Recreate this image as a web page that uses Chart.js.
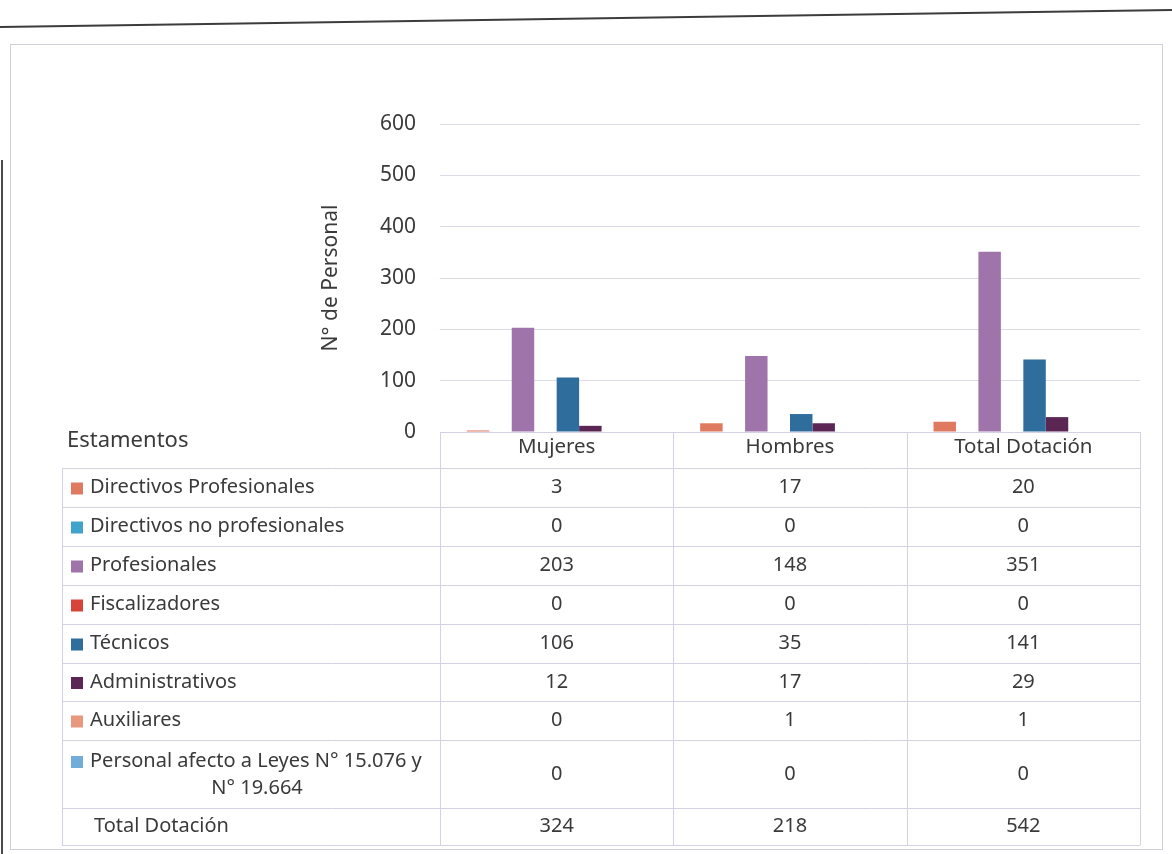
<!DOCTYPE html>
<html lang="es">
<head>
<meta charset="utf-8">
<title>Dotación por estamento</title>
<script src="https://cdn.jsdelivr.net/npm/chart.js@4.4.1/dist/chart.umd.min.js"></script>
<style>
  html, body { margin: 0; padding: 0; background: #fff; }
  canvas { display: block; }
</style>
</head>
<body>
<canvas id="dotacion" width="1172" height="854"></canvas>
<script>
// Columnas y estamentos
const categories = ['Mujeres', 'Hombres', 'Total Dotación'];
const estamentos = [
  'Directivos Profesionales',
  'Directivos no profesionales',
  'Profesionales',
  'Fiscalizadores',
  'Técnicos',
  'Administrativos',
  'Auxiliares',
  ['Personal afecto a Leyes N° 15.076 y', 'N° 19.664']
];

// Valores por estamento (Mujeres, Hombres, Total)
const directivosProf   = [3, 17, 20];
const directivosNoProf = [0, 0, 0];
const profesionales    = [203, 148, 351];
const fiscalizadores   = [0, 0, 0];
const tecnicos         = [106, 35, 141];
const administrativos  = [12, 17, 29];
const auxiliares       = [0, 1, 1];
const leyesMedicas     = [0, 0, 0];
const totalDotacion    = [324, 218, 542];

const seriesValues = [directivosProf, directivosNoProf, profesionales, fiscalizadores,
                      tecnicos, administrativos, auxiliares, leyesMedicas];
const seriesColors = ['#df7a60', '#3fa3cc', '#9f74ab', '#d6443a',
                      '#2f6d9c', '#5b2554', '#e9977e', '#72acd8'];

const yMax = 600;
const yStep = 100;

const FONT = "'Noto Sans', sans-serif";
const TEXT = '#3a3a3a';
const LINE = '#d2d3e2';

// Tabla de datos bajo el gráfico, alineada con la escala x
const dataTable = {
  id: 'dataTable',
  afterDraw(chart) {
    const { ctx, chartArea: area, scales: { x } } = chart;
    const colW = (area.right - area.left) / categories.length;
    const tableLeft = 62;
    const headerBottom = 468;
    const rowH = [39, 39, 39, 39, 39, 38, 39, 68, 37];
    const rowTops = [headerBottom];
    rowH.forEach(h => rowTops.push(rowTops[rowTops.length - 1] + h));
    const tableBottom = rowTops[rowTops.length - 1];

    ctx.save();
    ctx.strokeStyle = LINE;
    ctx.lineWidth = 1;

    // líneas horizontales
    ctx.beginPath();
    ctx.moveTo(area.left, area.bottom + 0.5);
    ctx.lineTo(area.right, area.bottom + 0.5);
    rowTops.forEach(y => {
      ctx.moveTo(tableLeft, y + 0.5);
      ctx.lineTo(area.right, y + 0.5);
    });
    // líneas verticales
    ctx.moveTo(tableLeft + 0.5, headerBottom);
    ctx.lineTo(tableLeft + 0.5, tableBottom);
    for (let i = 0; i <= categories.length; i++) {
      const cx = Math.round(area.left + i * colW) + 0.5;
      ctx.moveTo(cx, area.bottom);
      ctx.lineTo(cx, tableBottom);
    }
    ctx.stroke();

    ctx.fillStyle = TEXT;
    ctx.textBaseline = 'middle';

    // encabezados
    ctx.font = '22px ' + FONT;
    ctx.textAlign = 'left';
    ctx.fillText('Estamentos', 67, 441);
    ctx.font = '20.5px ' + FONT;
    ctx.textAlign = 'center';
    categories.forEach((c, i) => ctx.fillText(c, x.getPixelForValue(i), 447));

    // filas de estamentos
    ctx.font = '20px ' + FONT;
    estamentos.forEach((label, r) => {
      const top = rowTops[r];
      const mid = top + rowH[r] / 2;
      const lines = Array.isArray(label) ? label : [label];
      const firstY = lines.length > 1 ? mid - 13 : mid;

      ctx.fillStyle = seriesColors[r];
      ctx.fillRect(71, firstY - 5, 12, 12);

      ctx.fillStyle = TEXT;
      ctx.textAlign = 'left';
      ctx.fillText(lines[0], 90, firstY);
      if (lines.length > 1) {
        ctx.textAlign = 'center';
        ctx.fillText(lines[1], (tableLeft + area.left) / 2 + 6, firstY + 27);
      }

      ctx.textAlign = 'center';
      seriesValues[r].forEach((v, i) => ctx.fillText(String(v), x.getPixelForValue(i), mid));
    });

    // fila de totales
    const tTop = rowTops[estamentos.length];
    const tMid = tTop + rowH[estamentos.length] / 2;
    ctx.textAlign = 'left';
    ctx.fillText('Total Dotación', 94, tMid);
    ctx.textAlign = 'center';
    totalDotacion.forEach((v, i) => ctx.fillText(String(v), x.getPixelForValue(i), tMid));

    ctx.restore();
  }
};

// Marco del gráfico y línea del encabezado de página
const pageFrame = {
  id: 'pageFrame',
  beforeDraw(chart) {
    const { ctx, width, height } = chart;
    ctx.save();
    ctx.fillStyle = '#ffffff';
    ctx.fillRect(0, 0, width, height);

    ctx.strokeStyle = '#3c3c3c';
    ctx.lineWidth = 2;
    ctx.beginPath();
    ctx.moveTo(0, 27);
    ctx.lineTo(width, 10);
    ctx.stroke();

    ctx.strokeStyle = '#cfcfdb';
    ctx.lineWidth = 1;
    ctx.strokeRect(10.5, 44.5, 1152, 805);

    ctx.strokeStyle = '#4a4a4a';
    ctx.lineWidth = 2;
    ctx.beginPath();
    ctx.moveTo(2, 160);
    ctx.lineTo(2, height);
    ctx.stroke();
    ctx.restore();
  }
};

new Chart(document.getElementById('dotacion'), {
  type: 'bar',
  data: {
    labels: categories,
    datasets: estamentos.map((name, i) => ({
      label: Array.isArray(name) ? name.join(' ') : name,
      data: seriesValues[i],
      backgroundColor: seriesColors[i],
      borderWidth: 0,
      categoryPercentage: 0.77,
      barPercentage: 1.0
    }))
  },
  options: {
    responsive: false,
    animation: false,
    layout: { padding: { left: 318, right: 32, top: 124, bottom: 422 } },
    plugins: {
      legend: { display: false },
      tooltip: { enabled: false }
    },
    scales: {
      x: {
        grid: { display: false },
        border: { display: false },
        ticks: { display: false },
        afterFit: s => { s.height = 0; }
      },
      y: {
        min: 0,
        max: yMax,
        ticks: {
          stepSize: yStep,
          color: TEXT,
          padding: 24,
          font: { family: FONT, size: 21 }
        },
        grid: { color: '#dcdce8', drawTicks: false },
        border: { display: false },
        title: {
          display: true,
          text: 'N° de Personal',
          color: TEXT,
          padding: 0,
          font: { family: FONT, size: 21 }
        },
        afterFit: s => { s.width = 122; }
      }
    }
  },
  plugins: [pageFrame, dataTable]
});
</script>
</body>
</html>
